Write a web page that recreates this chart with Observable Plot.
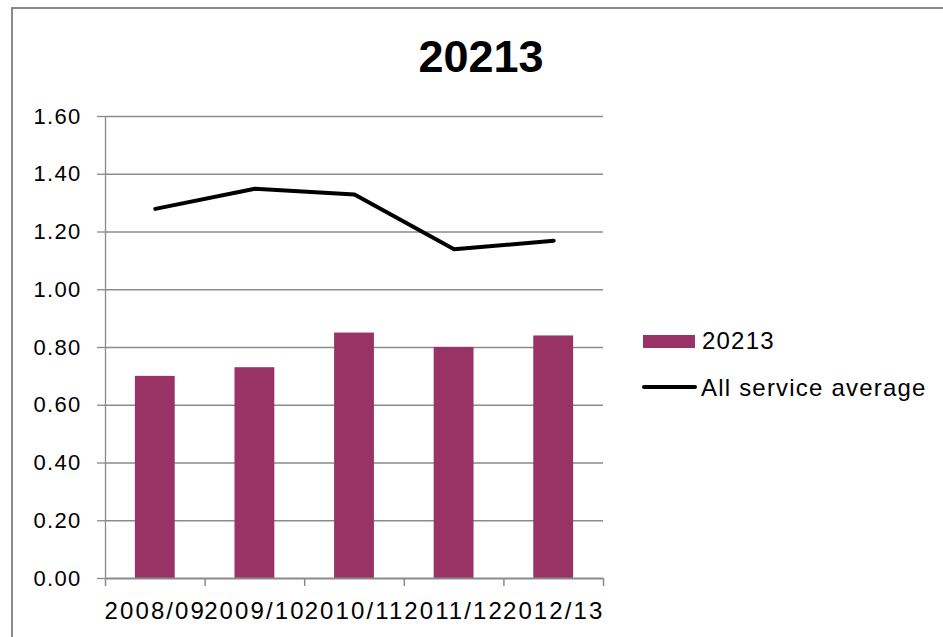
<!DOCTYPE html>
<html><head><meta charset="utf-8">
<script src="https://cdn.jsdelivr.net/npm/d3@7"></script>
<script src="https://cdn.jsdelivr.net/npm/@observablehq/plot@0.6"></script>
<style>
body{margin:0;background:#fff;font-family:"Liberation Sans",Arial,sans-serif;}
#wrap{position:relative;width:943px;height:637px;overflow:hidden;background:#fff;}
#frame{position:absolute;left:11px;top:7px;right:-10px;bottom:-10px;border-left:2px solid #8a8a8a;border-top:2px solid #8a8a8a;pointer-events:none;}
#title{position:absolute;left:281px;width:400px;top:34px;text-align:center;font-weight:bold;font-size:45px;line-height:45px;color:#000;}
#chart{position:absolute;left:0;top:0;}
.leg{position:absolute;font-size:24px;line-height:24px;letter-spacing:1.2px;color:#000;white-space:nowrap;}
#chart [aria-label="x-axis tick label"] text{letter-spacing:2.1px;}
#chart [aria-label="y-axis tick label"] text{letter-spacing:1.3px;}
</style></head>
<body><div id="wrap"><div id="chart"></div><div id="title"></div><div id="legend"></div><div id="frame"></div></div>
<script>
const years = ["2008/09", "2009/10", "2010/11", "2011/12", "2012/13"];
const serviceValues = [0.70, 0.73, 0.85, 0.80, 0.84];
const averageValues = [1.28, 1.35, 1.33, 1.14, 1.17];
const yTicks = [0, 0.2, 0.4, 0.6, 0.8, 1.0, 1.2, 1.4, 1.6];
const titleText = "20213";
const seriesName = "20213";
const averageName = "All service average";
const barColor = "#993366";
const gridColor = "#8a8a8a";

const data = years.map((year, i) => ({year, i, value: serviceValues[i], avg: averageValues[i]}));

const chart = Plot.plot({
  width: 943,
  height: 637,
  marginLeft: 105,
  marginRight: 340,
  marginTop: 116,
  marginBottom: 59,
  style: {background: "transparent", color: "black", fontFamily: "'Liberation Sans', Arial, sans-serif", fontSize: "22px"},
  x: {type: "linear", domain: [0, years.length], axis: null},
  y: {domain: [0, 1.6], axis: null},
  marks: [
    Plot.ruleY(yTicks.slice(1), {stroke: gridColor, strokeWidth: 1.3}),
    Plot.axisY({ticks: yTicks, tickSize: 8, tickPadding: 16, tickFormat: d => d.toFixed(2), fontSize: 22, stroke: gridColor, strokeWidth: 1.3, label: null}),
    Plot.ruleX([0], {stroke: gridColor, strokeWidth: 1.3}),
    Plot.rectY(data, {x1: d => d.i + 0.3, x2: d => d.i + 0.7, y: "value", fill: barColor}),
    Plot.line(data, {x: d => d.i + 0.5, y: "avg", stroke: "black", strokeWidth: 4, strokeLinejoin: "round"}),
    Plot.ruleY([0], {stroke: gridColor, strokeWidth: 2}),
    Plot.axisX({ticks: d3.range(0, years.length + 1), tickSize: 8, tickFormat: () => "", stroke: gridColor, strokeWidth: 1.5, label: null}),
    Plot.axisX({ticks: years.map((_, i) => i + 0.5), tickSize: 0, tickPadding: 23, tickFormat: v => years[Math.floor(v)], fontSize: 24, label: null})
  ]
});
document.getElementById("chart").appendChild(chart);
document.getElementById("title").textContent = titleText;

const legend = document.getElementById("legend");
legend.innerHTML = `
  <div style="position:absolute;left:643px;top:335px;width:52px;height:13px;background:${barColor}"></div>
  <div class="leg" style="left:702px;top:329px">${seriesName}</div>
  <div style="position:absolute;left:642px;top:385px;width:55px;height:4px;background:#000;border-radius:2px"></div>
  <div class="leg" style="left:701px;top:376px">${averageName}</div>`;
</script>
</body></html>
